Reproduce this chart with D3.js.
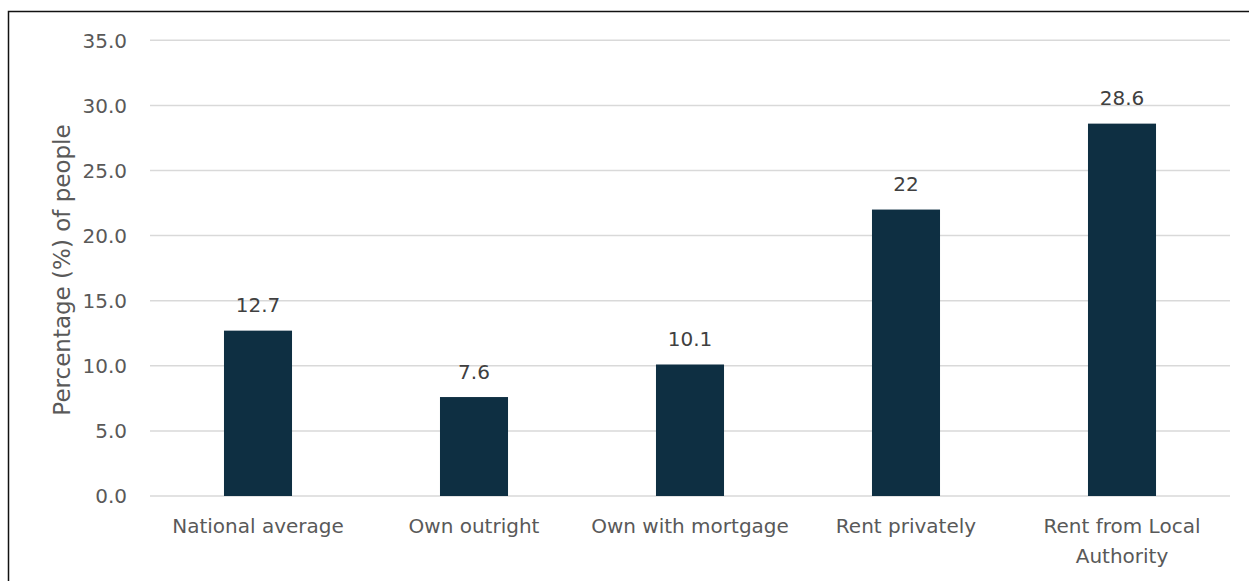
<!DOCTYPE html>
<html>
<head>
<meta charset="utf-8">
<script src="https://cdn.jsdelivr.net/npm/d3@7"></script>
<style>
  html, body { margin: 0; padding: 0; background: #fff; }
  svg { display: block; }
</style>
</head>
<body>
<svg id="chart" width="1249" height="581"></svg>
<script>
const categories = ["National average", "Own outright", "Own with mortgage", "Rent privately", "Rent from Local Authority"];
const values = [12.7, 7.6, 10.1, 22, 28.6];
const valueLabels = ["12.7", "7.6", "10.1", "22", "28.6"];
const yTicks = [0, 5, 10, 15, 20, 25, 30, 35];
const yTitle = "Percentage (%) of people";

const svg = d3.select("#chart");
const FONT = "'DejaVu Sans', sans-serif";

// frame border (only top and left visible in the reference)
svg.append("rect")
  .attr("x", 8.5).attr("y", 11.5)
  .attr("width", 1400).attr("height", 800)
  .attr("fill", "none").attr("stroke", "#111").attr("stroke-width", 1.5);

const x = d3.scaleBand()
  .domain(categories)
  .range([150, 1230])
  .paddingInner(0.685)
  .paddingOuter(0.3425);

const y = d3.scaleLinear().domain([0, 35]).range([496, 40.3]);

// gridlines
svg.append("g").selectAll("line")
  .data(yTicks)
  .join("line")
  .attr("x1", 150).attr("x2", 1230)
  .attr("y1", d => y(d)).attr("y2", d => y(d))
  .attr("stroke", "#d9d9d9").attr("stroke-width", 1.5);

// y tick labels
svg.append("g").selectAll("text")
  .data(yTicks)
  .join("text")
  .attr("x", 127)
  .attr("y", d => y(d) + 7.2)
  .attr("text-anchor", "end")
  .attr("font-family", FONT)
  .attr("font-size", 20)
  .attr("fill", "#595959")
  .text(d => d3.format(".1f")(d));

// y axis title
svg.append("text")
  .attr("transform", "translate(70,270) rotate(-90)")
  .attr("text-anchor", "middle")
  .attr("font-family", FONT)
  .attr("font-size", 23)
  .attr("fill", "#595959")
  .text(yTitle);

// bars
svg.append("g").selectAll("rect")
  .data(categories)
  .join("rect")
  .attr("x", d => x(d))
  .attr("width", x.bandwidth())
  .attr("y", (d, i) => y(values[i]))
  .attr("height", (d, i) => y(0) - y(values[i]))
  .attr("fill", "#0e2f42");

// value labels
svg.append("g").selectAll("text")
  .data(categories)
  .join("text")
  .attr("x", d => x(d) + x.bandwidth() / 2)
  .attr("y", (d, i) => y(values[i]) - 18.5)
  .attr("text-anchor", "middle")
  .attr("font-family", FONT)
  .attr("font-size", 20)
  .attr("fill", "#404040")
  .text((d, i) => valueLabels[i]);

// category labels with wrapping
const catG = svg.append("g");
const maxW = x.step() + 10;
categories.forEach(cat => {
  const cx = x(cat) + x.bandwidth() / 2;
  const t = catG.append("text")
    .attr("x", cx).attr("y", 533)
    .attr("text-anchor", "middle")
    .attr("font-family", FONT)
    .attr("font-size", 20)
    .attr("fill", "#595959");
  const words = cat.split(" ");
  let line = [];
  let lineNo = 0;
  let tspan = t.append("tspan").attr("x", cx).attr("y", 533);
  words.forEach(w => {
    line.push(w);
    tspan.text(line.join(" "));
    if (tspan.node().getComputedTextLength() > maxW && line.length > 1) {
      line.pop();
      tspan.text(line.join(" "));
      line = [w];
      lineNo++;
      tspan = t.append("tspan").attr("x", cx).attr("y", 533 + lineNo * 30).text(w);
    }
  });
});
</script>
</body>
</html>
